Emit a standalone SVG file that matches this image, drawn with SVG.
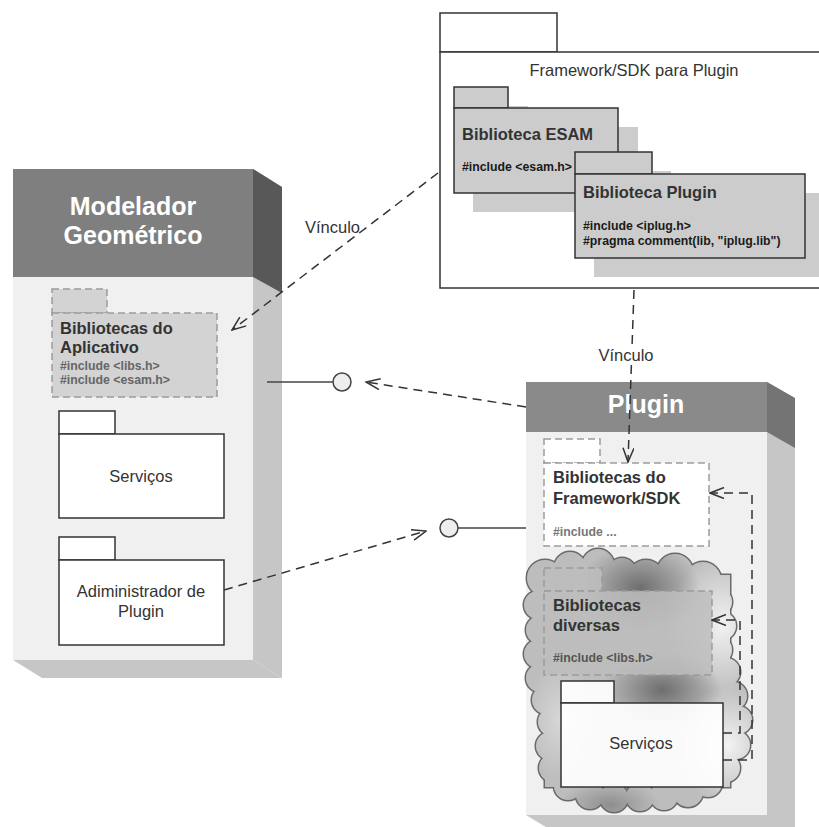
<svg xmlns="http://www.w3.org/2000/svg" width="819" height="827" viewBox="0 0 819 827">
  <style>
    text { font-family: "Liberation Sans", Arial, sans-serif; }
    .title { font-size: 25px; font-weight: bold; fill: #ffffff; text-anchor: middle; }
    .lbl { font-size: 16.5px; fill: #333333; }
    .mid { text-anchor: middle; }
    .bold { font-weight: bold; }
    .code { font-size: 12.3px; font-weight: bold; }
    .pkg { fill: #ffffff; stroke: #333333; stroke-width: 1.5; }
    .lib { fill: #cccccc; stroke: #333333; stroke-width: 1.5; }
    .shadow { fill: #cccccc; }
    .dpkg { stroke: #9c9c9c; stroke-width: 1.5; stroke-dasharray: 7 4; }
    .dep { fill: none; stroke: #333333; stroke-width: 1.5; stroke-dasharray: 9 6; marker-end: url(#open); }
    .solid { fill: none; stroke: #444444; stroke-width: 1.5; }
    .iface { fill: #eeeeee; stroke: #444444; stroke-width: 1.5; }
    .halo { paint-order: stroke; stroke: #ffffff; stroke-width: 5px; }
  </style>
  <defs>
    <marker id="open" viewBox="0 0 16 12" refX="15" refY="6" markerWidth="16" markerHeight="12" markerUnits="userSpaceOnUse" orient="auto">
      <path d="M1,0.5 L15,6 L1,11.5" fill="none" stroke="#333333" stroke-width="1.5"/>
    </marker>
    <!-- cloud outline built from overlapping bubbles -->
    <g id="cloudShape">
      <circle cx="545" cy="578" r="18"/>
      <circle cx="570" cy="568" r="16"/>
      <circle cx="598" cy="565" r="16"/>
      <circle cx="622" cy="572" r="14"/>
      <circle cx="646" cy="578" r="18"/>
      <circle cx="675" cy="572" r="18"/>
      <circle cx="703" cy="580" r="18"/>
      <circle cx="718" cy="602" r="14"/>
      <circle cx="722" cy="626" r="14"/>
      <circle cx="718" cy="650" r="14"/>
      <circle cx="726" cy="672" r="14"/>
      <circle cx="733" cy="696" r="14"/>
      <circle cx="738" cy="720" r="14"/>
      <circle cx="736" cy="745" r="14"/>
      <circle cx="726" cy="768" r="14"/>
      <circle cx="708" cy="783" r="14"/>
      <circle cx="688" cy="792" r="15"/>
      <circle cx="664" cy="796" r="14"/>
      <circle cx="640" cy="797" r="14"/>
      <circle cx="614" cy="798" r="14"/>
      <circle cx="590" cy="795" r="14"/>
      <circle cx="568" cy="786" r="14"/>
      <circle cx="553" cy="768" r="14"/>
      <circle cx="550" cy="746" r="14"/>
      <circle cx="552" cy="722" r="14"/>
      <circle cx="546" cy="700" r="14"/>
      <circle cx="540" cy="678" r="14"/>
      <circle cx="538" cy="654" r="14"/>
      <circle cx="540" cy="630" r="14"/>
      <circle cx="538" cy="605" r="14"/>
      <rect x="545" y="575" width="185" height="212"/>
    </g>
    <mask id="cloudMask">
      <use href="#cloudShape" fill="#ffffff"/>
    </mask>
    <radialGradient id="darkSpot" r="0.5">
      <stop offset="0" stop-color="#6e6e6e" stop-opacity="1"/>
      <stop offset="1" stop-color="#6e6e6e" stop-opacity="0"/>
    </radialGradient>
    <radialGradient id="lightSpot" r="0.5">
      <stop offset="0" stop-color="#f2f2f2" stop-opacity="1"/>
      <stop offset="1" stop-color="#f2f2f2" stop-opacity="0"/>
    </radialGradient>
  </defs>

  <rect width="819" height="827" fill="#ffffff"/>

  <!-- Framework/SDK package (top) -->
  <g id="framework">
    <rect class="pkg" x="440" y="13" width="117" height="39"/>
    <rect class="pkg" x="440" y="52" width="395" height="236"/>
    <text class="lbl mid" x="634" y="76">Framework/SDK para Plugin</text>

    <g id="lib-esam">
      <rect class="shadow" x="473" y="106" width="55" height="21"/>
      <rect class="shadow" x="473" y="127" width="165" height="85"/>
      <rect class="lib" x="454" y="87" width="54" height="21"/>
      <rect class="lib" x="454" y="108" width="164" height="85"/>
      <text class="lbl bold" x="462" y="140" fill="#1a1a1a">Biblioteca ESAM</text>
      <text class="code" x="462" y="171" fill="#1a1a1a">#include &lt;esam.h&gt;</text>
    </g>

    <g id="lib-plugin">
      <rect class="shadow" x="594" y="171" width="77" height="22"/>
      <rect class="shadow" x="594" y="193" width="240" height="84"/>
      <rect class="lib" x="575" y="152" width="77" height="22"/>
      <rect class="lib" x="575" y="174" width="230" height="84"/>
      <text class="lbl bold" x="583" y="198" fill="#1a1a1a">Biblioteca Plugin</text>
      <text class="code" x="583" y="230" fill="#1a1a1a">#include &lt;iplug.h&gt;</text>
      <text class="code" x="583" y="245" fill="#1a1a1a">#pragma comment(lib, "iplug.lib")</text>
    </g>
  </g>

  <!-- Modelador Geométrico node -->
  <g id="node-modelador">
    <polygon points="253,169 282,187 282,678 253,660" fill="#c6c6c6"/>
    <polygon points="253,169 282,187 282,293 253,277" fill="#585858"/>
    <polygon points="13,660 253,660 282,678 42,678" fill="#c6c6c6"/>
    <rect x="13" y="169" width="240" height="491" fill="#f0f0f0"/>
    <rect x="13" y="169" width="240" height="108" fill="#7f7f7f"/>
    <text class="title" x="133" y="215">Modelador</text>
    <text class="title" x="133" y="244">Geométrico</text>

    <g id="libs-aplicativo">
      <rect class="dpkg" x="52" y="289" width="55" height="24" fill="#d3d3d3"/>
      <rect class="dpkg" x="52" y="313" width="165" height="84" fill="#d3d3d3"/>
      <text class="lbl bold" x="60" y="334" fill="#666666">Bibliotecas do</text>
      <text class="lbl bold" x="60" y="353" fill="#666666">Aplicativo</text>
      <text class="code" x="60" y="370" fill="#666666">#include &lt;libs.h&gt;</text>
      <text class="code" x="60" y="384" fill="#666666">#include &lt;esam.h&gt;</text>
    </g>

    <g id="servicos-app">
      <rect class="pkg" x="59" y="411" width="56" height="23"/>
      <rect class="pkg" x="59" y="434" width="165" height="84"/>
      <text class="lbl mid" x="141" y="482">Serviços</text>
    </g>

    <g id="admin-plugin">
      <rect class="pkg" x="59" y="537" width="56" height="23"/>
      <rect class="pkg" x="59" y="560" width="165" height="85"/>
      <text class="lbl mid" x="141" y="597">Adiministrador de</text>
      <text class="lbl mid" x="141" y="617">Plugin</text>
    </g>
  </g>

  <!-- Plugin node -->
  <g id="node-plugin">
    <polygon points="767,382 795,398 795,832 554,832 526,815 767,815" fill="#c6c6c6"/>
    <polygon points="767,382 795,398 795,448 767,432" fill="#747474"/>
    <rect x="526" y="382" width="241" height="433" fill="#f0f0f0"/>
    <rect x="526" y="382" width="241" height="50" fill="#8a8a8a"/>
    <text class="title" x="646" y="413">Plugin</text>

    <g id="libs-framework">
      <rect class="dpkg" x="544" y="439" width="56" height="24" fill="#ffffff"/>
      <rect class="dpkg" x="544" y="463" width="165" height="83" fill="#ffffff"/>
      <text class="lbl bold" x="553" y="483" fill="#777777">Bibliotecas do</text>
      <text class="lbl bold" x="553" y="504" fill="#777777">Framework/SDK</text>
      <text class="code" x="553" y="536" fill="#777777">#include ...</text>
    </g>

    <g id="cloud">
      <use href="#cloudShape" fill="none" stroke="#6a6a6a" stroke-width="3"/>
      <g mask="url(#cloudMask)">
        <rect x="520" y="545" width="235" height="270" fill="#bdbdbd"/>
        <ellipse cx="722" cy="625" rx="55" ry="70" fill="url(#lightSpot)"/>
        <ellipse cx="728" cy="745" rx="50" ry="60" fill="url(#lightSpot)"/>
        <ellipse cx="560" cy="720" rx="35" ry="60" fill="url(#lightSpot)" opacity="0.5"/>
        <ellipse cx="640" cy="588" rx="60" ry="45" fill="url(#darkSpot)"/>
        <ellipse cx="662" cy="690" rx="60" ry="40" fill="url(#darkSpot)"/>
        <ellipse cx="610" cy="805" rx="50" ry="25" fill="url(#darkSpot)" opacity="0.6"/>
      </g>
    </g>

    <g id="libs-diversas">
      <rect class="dpkg" x="544" y="568" width="58" height="23" fill="#bdbdbd" fill-opacity="0.85"/>
      <rect class="dpkg" x="544" y="591" width="168" height="84" fill="#bdbdbd" fill-opacity="0.85"/>
      <text class="lbl bold" x="553" y="611" fill="#555555">Bibliotecas</text>
      <text class="lbl bold" x="553" y="631" fill="#555555">diversas</text>
      <text class="code" x="553" y="662" fill="#555555">#include &lt;libs.h&gt;</text>
    </g>

    <g id="servicos-plugin">
      <rect class="pkg" x="561" y="681" width="53" height="22" fill-opacity="0.92"/>
      <rect class="pkg" x="561" y="703" width="162" height="84" fill="#f4f4f4" fill-opacity="0.92"/>
      <text class="lbl mid" x="641" y="749">Serviços</text>
    </g>
  </g>

  <!-- provided interfaces -->
  <g id="iface-modelador">
    <line class="solid" x1="267" y1="382" x2="333" y2="382"/>
    <circle class="iface" cx="342" cy="382" r="9"/>
  </g>
  <g id="iface-plugin">
    <line class="solid" x1="458" y1="528" x2="526" y2="528"/>
    <circle class="iface" cx="449" cy="528" r="9"/>
  </g>

  <!-- dependencies -->
  <g id="connectors">
    <path class="dep" d="M438,173 L232,330"/>
    <path class="dep" d="M634,290 L628,462"/>
    <path class="dep" d="M526,407 L366,382"/>
    <path class="dep" d="M224,590 L426,531"/>
    <path class="dep" d="M723,760 L752,760 L752,493 L710,493"/>
    <path class="dep" d="M723,733 L740,733 L740,620 L712,620"/>
    <text class="lbl" x="305" y="233">Vínculo</text>
    <text class="lbl mid halo" x="626" y="361">Vínculo</text>
  </g>
</svg>
